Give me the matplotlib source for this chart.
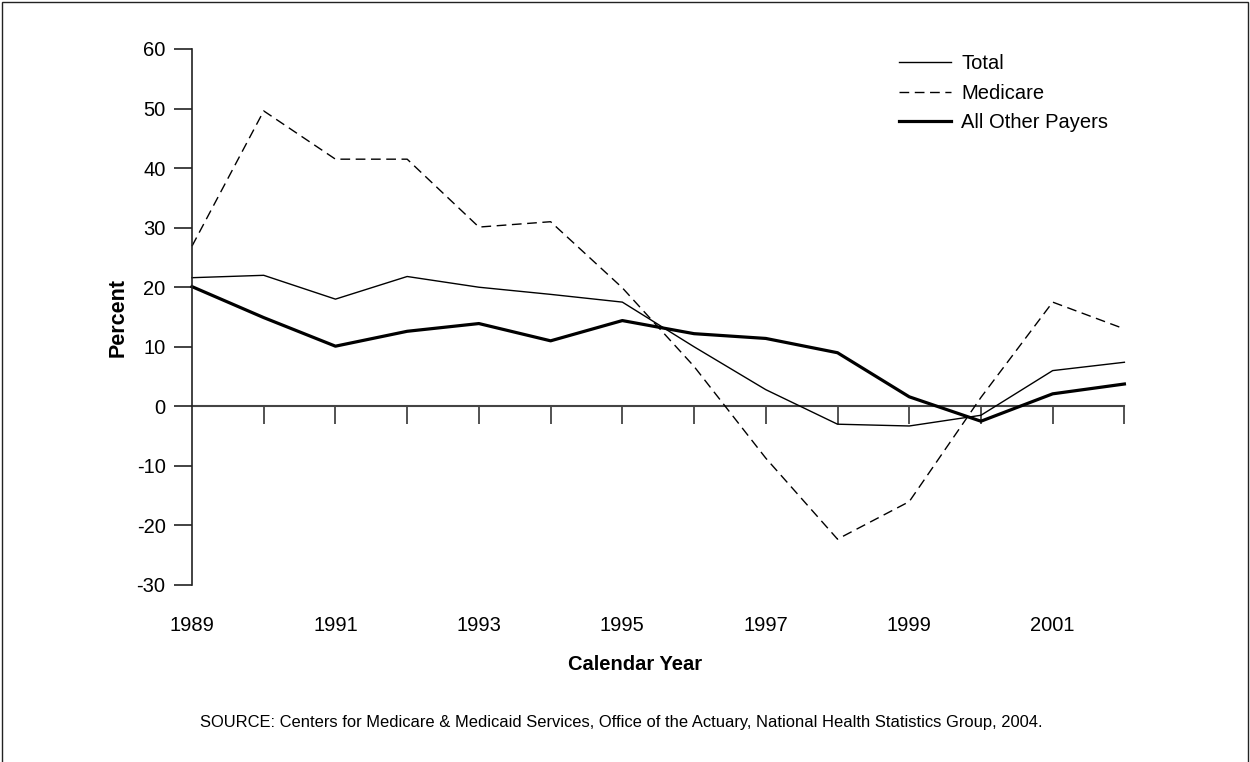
import matplotlib
matplotlib.use("Agg")
import matplotlib.pyplot as plt
from matplotlib.patches import Rectangle

years = [1989, 1990, 1991, 1992, 1993, 1994, 1995, 1996, 1997, 1998, 1999, 2000, 2001, 2002]
total = [21.6, 22.0, 18.0, 21.8, 20.0, 18.8, 17.5, 10.0, 2.8, -3.0, -3.3, -1.5, 6.0, 7.4]
medicare = [26.9, 49.6, 41.5, 41.5, 30.1, 31.0, 19.9, 6.7, -8.7, -22.3, -16.0, 1.5, 17.5, 13.0]
all_other = [20.1, 14.9, 10.1, 12.6, 13.9, 11.0, 14.4, 12.2, 11.4, 9.0, 1.6, -2.5, 2.1, 3.75]
xtick_years = [1989, 1991, 1993, 1995, 1997, 1999, 2001]
yticks = [-30, -20, -10, 0, 10, 20, 30, 40, 50, 60]

plt.rcParams['font.family'] = ['Liberation Sans', 'DejaVu Sans']

W, H = 1250, 762
fig = plt.figure(figsize=(W / 100, H / 100), dpi=100)
fig.patch.set_facecolor('white')

# outer frame
fig.patches.append(Rectangle((2 / W, -0.05), (W - 4) / W, 1.05 - 2 / H,
                             transform=fig.transFigure, fill=False,
                             edgecolor='#222222', linewidth=1.0))

left, right = 192 / W, 1124.4 / W
top, bottom = 1 - 49 / H, 1 - 585 / H
ax = fig.add_axes([left, bottom, right - left, top - bottom])
ax.set_xlim(1989, 2002)
ax.set_ylim(-30, 60)

for s in ['top', 'right', 'bottom']:
    ax.spines[s].set_visible(False)
ax.spines['left'].set_linewidth(1.2)
ax.spines['left'].set_color('#222222')

ax.set_yticks(yticks)
ax.set_yticklabels([str(v) for v in yticks])
ax.tick_params(axis='y', direction='out', length=13, width=1.2, color='#222222',
               labelsize=14.5, pad=6)

ax.set_xticks(xtick_years)
ax.set_xticklabels([str(v) for v in xtick_years])
ax.tick_params(axis='x', length=0, labelsize=14.5, pad=22)

# zero baseline with year ticks
ax.plot([years[0], years[-1]], [0, 0], color='#444444', linewidth=1.5, zorder=1,
        clip_on=False)
ax.vlines(years[1:], -3.05, 0, color='#444444', linewidth=1.3, zorder=1, clip_on=False)

ax.plot(years, total, color='black', linewidth=1.0, label='Total', clip_on=False)
ax.plot(years, medicare, color='black', linewidth=1.0, linestyle=(0, (7, 4)),
        label='Medicare', clip_on=False)
ax.plot(years, all_other, color='black', linewidth=2.3, label='All Other Payers',
        clip_on=False)

leg = ax.legend(loc='upper left', bbox_to_anchor=(899 / W, 1 - 54 / H),
                bbox_transform=fig.transFigure, frameon=False, fontsize=14.5,
                handlelength=2.6, handletextpad=0.5, labelspacing=0.53,
                borderpad=0, borderaxespad=0)

fig.text(118 / W, 1 - 318 / H, 'Percent', rotation=90, ha='center', va='center',
         fontsize=15.5, fontweight='bold')
fig.text(635 / W, 1 - 665 / H, 'Calendar Year', ha='center', va='center',
         fontsize=14.5, fontweight='bold')
fig.text(621 / W, 1 - 722 / H,
         'SOURCE: Centers for Medicare & Medicaid Services, Office of the Actuary, '
         'National Health Statistics Group, 2004.',
         ha='center', va='center', fontsize=11.9)

fig.savefig('out.png', dpi=100, facecolor='white')
